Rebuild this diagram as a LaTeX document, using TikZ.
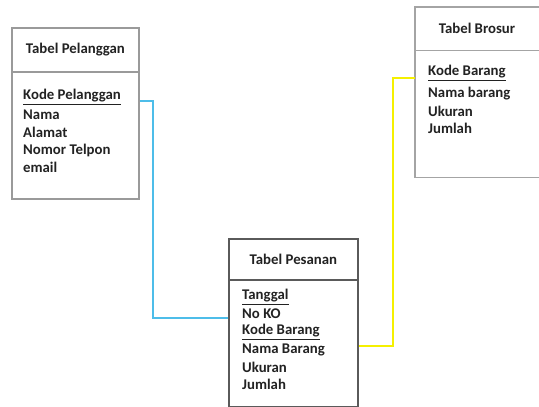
\documentclass[tikz,border=0pt]{standalone}
\usepackage{fontspec}
\setmainfont{Carlito}[BoldFont={Carlito Bold}]
\definecolor{frameA}{HTML}{9A9A9A}
\definecolor{frameB}{HTML}{5A5A5A}
\definecolor{frameC}{HTML}{A4A4A4}
\definecolor{linkblue}{HTML}{4DBDE9}
\definecolor{linkyellow}{HTML}{F5F000}
\definecolor{inktext}{HTML}{222222}
\begin{document}
\begin{tikzpicture}[x=1pt,y=-1pt,
  part/.style={draw=#1, line width=1.8pt, inner sep=0pt, anchor=north west},
  openpart/.style={inner sep=0pt, anchor=north west},
  title/.style={font=\bfseries\fontsize{14.8}{17}\selectfont, text=inktext, inner sep=0pt},
  attr/.style={font=\bfseries\fontsize{14.8}{17}\selectfont, text=inktext, inner sep=0pt, anchor=west},
  link/.style={line width=2pt}]
\useasboundingbox (0,0) rectangle (539,407);

% Tabel Pelanggan
\node[part=frameA, minimum width=127pt, minimum height=44pt] (lhead) at (11,27) {};
\node[part=frameA, minimum width=127pt, minimum height=127pt] (lbody) at (11,71) {};
\node[title] (lt) at (lhead.center) {Tabel Pelanggan};
\node[attr] (l1) at (23,97) {\underline{Kode Pelanggan}};
\node[attr] (l2) at (23,115) {Nama};
\node[attr] (l3) at (23,132.5) {Alamat};
\node[attr] (l4) at (23,150) {Nomor Telpon};
\node[attr] (l5) at (23,167) {email};

% Tabel Pesanan
\node[part=frameB, minimum width=129pt, minimum height=41pt] (mhead) at (228,238) {};
\node[part=frameB, minimum width=129pt, minimum height=127pt] (mbody) at (228,279) {};
\node[title] (mt) at (mhead.center) {Tabel Pesanan};
\node[attr] (m1) at (242,297) {\underline{Tanggal}};
\node[attr] (m2) at (242,314) {No KO};
\node[attr] (m3) at (242,332) {\underline{Kode Barang}};
\node[attr] (m4) at (242,350) {Nama Barang};
\node[attr] (m5) at (242,367) {Ukuran};
\node[attr] (m6) at (242,384) {Jumlah};

% Tabel Brosur (its right edge lies outside the picture)
\node[openpart, minimum width=124pt, minimum height=43pt] (rhead) at (415,7) {};
\node[openpart, minimum width=124pt, minimum height=127pt] (rbody) at (415,50) {};
\draw[frameC, line width=1.8pt] (rhead.north east) -- (rhead.north west) -- (rbody.south west) -- (rbody.south east);
\draw[frameC, line width=1.8pt] (rhead.south west) -- (rhead.south east);
\node[title] (rt) at (477,28) {Tabel Brosur};
\node[attr] (r1) at (428,73) {\underline{Kode Barang}};
\node[attr] (r2) at (428,94) {Nama barang};
\node[attr] (r3) at (428,111) {Ukuran};
\node[attr] (r4) at (428,128) {Jumlah};

% connectors
\coordinate (bturn) at (153,318);
\coordinate (yturn) at (393,346);
\draw[link, linkblue] (lbody.east |- 0,101) -| (bturn) -- (mbody.west |- bturn);
\draw[link, linkyellow] (rbody.west |- 0,78) -| (yturn) -- (mbody.east |- yturn);
\end{tikzpicture}
\end{document}
